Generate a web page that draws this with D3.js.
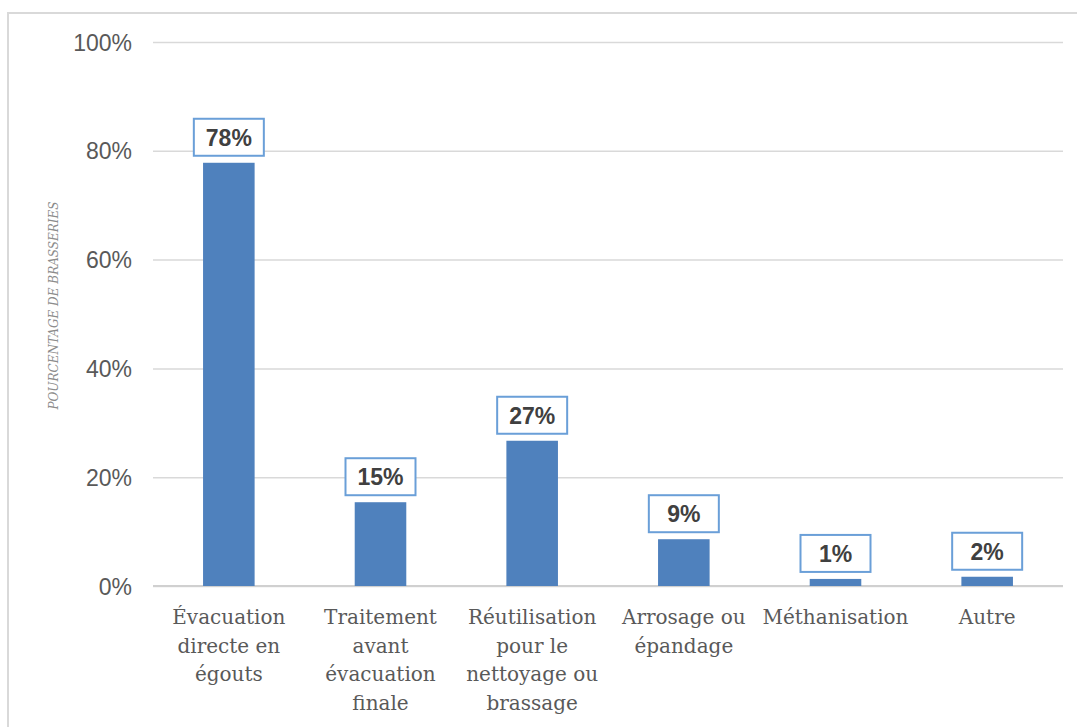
<!DOCTYPE html>
<html>
<head>
<meta charset="utf-8">
<script src="https://cdn.jsdelivr.net/npm/d3@7"></script>
<style>
  html, body { margin: 0; padding: 0; background: #fff; }
  svg { display: block; }
</style>
</head>
<body>
<svg id="chart" width="1077" height="727"></svg>
<script>
// Destination des eaux usées des brasseries (part des brasseries)
const categories = [
  "Évacuation directe en égouts",
  "Traitement avant évacuation finale",
  "Réutilisation pour le nettoyage ou brassage",
  "Arrosage ou épandage",
  "Méthanisation",
  "Autre"
];
// Lines used to wrap each category label under the axis
const categoryLines = [
  ["Évacuation", "directe en", "égouts"],
  ["Traitement", "avant", "évacuation", "finale"],
  ["Réutilisation", "pour le", "nettoyage ou", "brassage"],
  ["Arrosage ou", "épandage"],
  ["Méthanisation"],
  ["Autre"]
];
const shares = [0.778, 0.154, 0.267, 0.086, 0.013, 0.017];
const yTicks = [0, 0.2, 0.4, 0.6, 0.8, 1.0];
const yTitle = "POURCENTAGE DE BRASSERIES";

const svg = d3.select("#chart");
const W = 1077, H = 727;
const plot = { left: 153, right: 1063, top: 42, bottom: 586 };

// Chart frame (top and left edges)
svg.append("path")
  .attr("d", `M8,${H} L8,13 L${W},13`)
  .attr("fill", "none")
  .attr("stroke", "#d9d9d9")
  .attr("stroke-width", 2);

const x = d3.scaleBand()
  .domain(categories)
  .range([plot.left, plot.right])
  .paddingInner(0.66)
  .paddingOuter(0.33);

const y = d3.scaleLinear()
  .domain([0, 1])
  .range([plot.bottom, plot.top]);

const pct = d3.format(".0%");

// Horizontal gridlines and y tick labels
const yAxis = d3.axisLeft(y)
  .tickValues(yTicks)
  .tickFormat(pct)
  .tickSize(-(plot.right - plot.left))
  .tickPadding(21);

const gy = svg.append("g")
  .attr("transform", `translate(${plot.left},0)`)
  .call(yAxis);
gy.select(".domain").remove();
gy.selectAll(".tick line")
  .attr("stroke", "#d9d9d9")
  .attr("stroke-width", 1.5);
gy.selectAll(".tick text")
  .attr("fill", "#595959")
  .attr("font-family", "'Liberation Sans', Arial, sans-serif")
  .attr("font-size", 23)
  .attr("dy", "0.35em");

// Category axis baseline
svg.append("line")
  .attr("x1", plot.left).attr("x2", plot.right)
  .attr("y1", y(0)).attr("y2", y(0))
  .attr("stroke", "#d0d0d0")
  .attr("stroke-width", 2);

// Y axis title
svg.append("text")
  .attr("transform", `translate(58,${(203 + 408) / 2}) rotate(-90)`)
  .attr("text-anchor", "middle")
  .attr("font-family", "'DejaVu Serif', serif")
  .attr("font-style", "italic")
  .attr("font-size", 12)
  .attr("fill", "#8c8c8c")
  .text(yTitle);

// Bars
svg.append("g").selectAll("rect")
  .data(shares)
  .join("rect")
  .attr("x", (d, i) => x(categories[i]))
  .attr("y", d => y(d))
  .attr("width", x.bandwidth())
  .attr("height", d => y(0) - y(d))
  .attr("fill", "#4f81bd");

// Boxed value labels above the bars
const boxW = 70, boxH = 37, gap = 7;
const labels = svg.append("g").selectAll("g")
  .data(shares)
  .join("g")
  .attr("transform", (d, i) =>
    `translate(${x(categories[i]) + x.bandwidth() / 2},${y(d) - gap - boxH / 2})`);
labels.append("rect")
  .attr("x", -boxW / 2).attr("y", -boxH / 2)
  .attr("width", boxW).attr("height", boxH)
  .attr("fill", "#fff")
  .attr("stroke", "#6a9fd8")
  .attr("stroke-width", 2);
labels.append("text")
  .attr("text-anchor", "middle")
  .attr("dy", "0.36em")
  .attr("font-family", "'Liberation Sans', Arial, sans-serif")
  .attr("font-weight", "bold")
  .attr("font-size", 23)
  .attr("fill", "#404040")
  .text(d => pct(d));

// Wrapped category labels
const xl = svg.append("g").selectAll("text")
  .data(categories)
  .join("text")
  .attr("x", d => x(d) + x.bandwidth() / 2)
  .attr("y", 624)
  .attr("text-anchor", "middle")
  .attr("font-family", "'DejaVu Serif', serif")
  .attr("font-size", 20)
  .attr("fill", "#595959");
xl.selectAll("tspan")
  .data((d, i) => categoryLines[i].map(t => ({ t, cx: x(d) + x.bandwidth() / 2 })))
  .join("tspan")
  .attr("x", d => d.cx)
  .attr("dy", (d, j) => j === 0 ? 0 : 28.7)
  .text(d => d.t);
</script>
</body>
</html>
